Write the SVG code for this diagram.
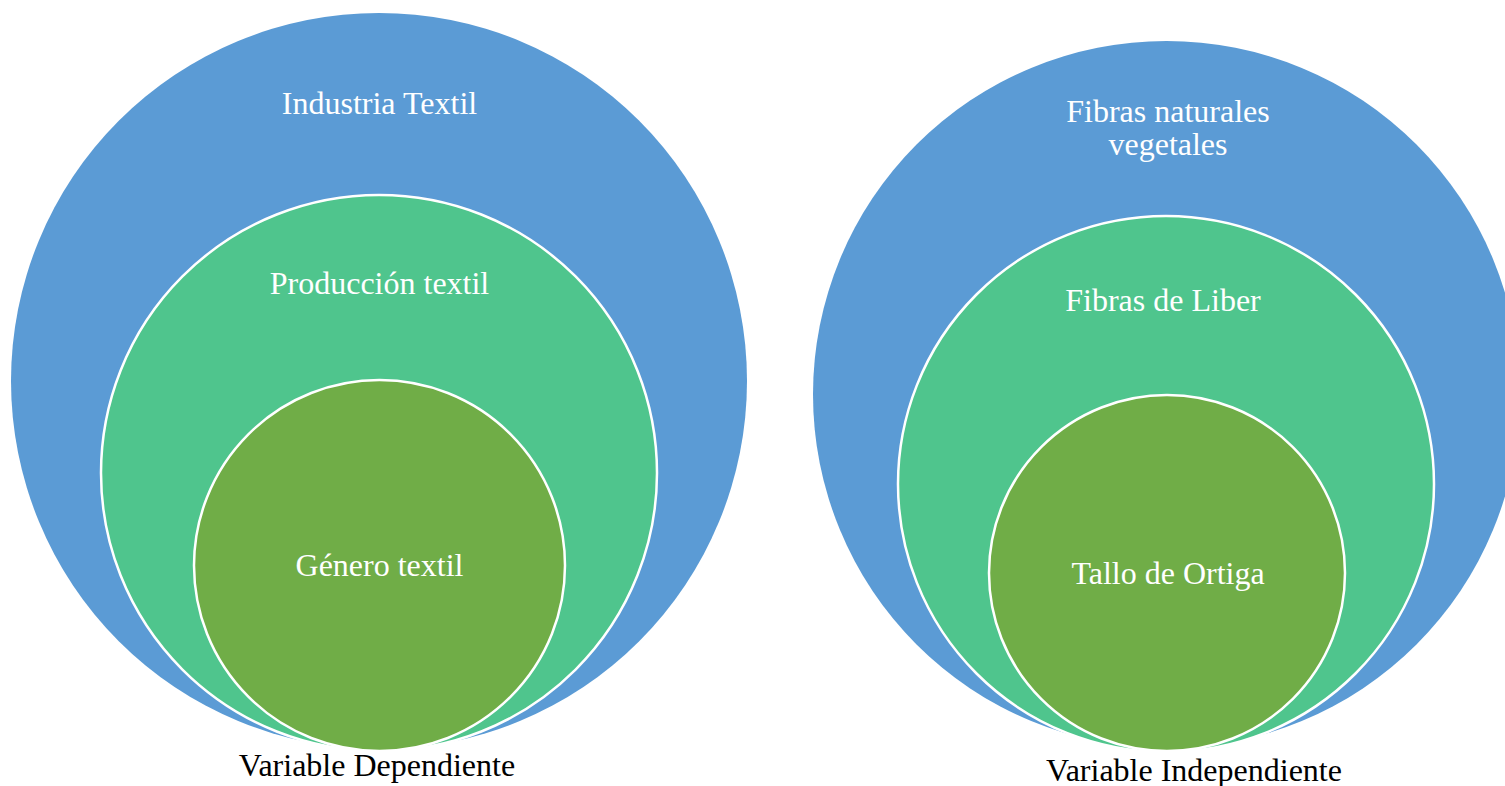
<svg xmlns="http://www.w3.org/2000/svg" width="1505" height="786" viewBox="0 0 1505 786">
  <style>
    .outer { fill: #5B9BD5; }
    .mid { fill: #4FC58D; stroke: #FFFFFF; stroke-width: 2.5; }
    .inner { fill: #70AD47; stroke: #FFFFFF; stroke-width: 2.5; }
    .lbl { font-family: "Liberation Serif", "Times New Roman", serif; font-size: 32px; fill: #FFFFFF; text-anchor: middle; }
    .cap { font-family: "Liberation Serif", "Times New Roman", serif; font-size: 32px; fill: #000000; text-anchor: middle; }
  </style>
  <rect width="1505" height="786" fill="#FFFFFF"/>

  <!-- Dependent variable: nested circles -->
  <g id="industria-textil">
    <circle class="outer" cx="379" cy="381" r="368"/>
    <text class="lbl" x="379.5" y="114">Industria Textil</text>
  </g>
  <g id="produccion-textil">
    <circle class="mid" cx="379" cy="473" r="278"/>
    <text class="lbl" x="379.5" y="294">Producción textil</text>
  </g>
  <g id="genero-textil">
    <circle class="inner" cx="379.5" cy="565.5" r="185.5"/>
    <text class="lbl" x="379.5" y="576">Género textil</text>
  </g>
  <g id="variable-dependiente">
    <text class="cap" x="377" y="776">Variable Dependiente</text>
  </g>

  <!-- Independent variable: nested circles -->
  <g id="fibras-naturales">
    <circle class="outer" cx="1166.5" cy="394.5" r="353.5"/>
    <text class="lbl" x="1168" y="122">Fibras naturales</text>
    <text class="lbl" x="1168" y="155">vegetales</text>
  </g>
  <g id="fibras-liber">
    <circle class="mid" cx="1166" cy="484" r="268"/>
    <text class="lbl" x="1163" y="311">Fibras de Liber</text>
  </g>
  <g id="tallo-ortiga">
    <circle class="inner" cx="1167" cy="573" r="178"/>
    <text class="lbl" x="1168" y="584">Tallo de Ortiga</text>
  </g>
  <g id="variable-independiente">
    <text class="cap" x="1194" y="781">Variable Independiente</text>
  </g>

  <g id="connectors"></g>
</svg>
